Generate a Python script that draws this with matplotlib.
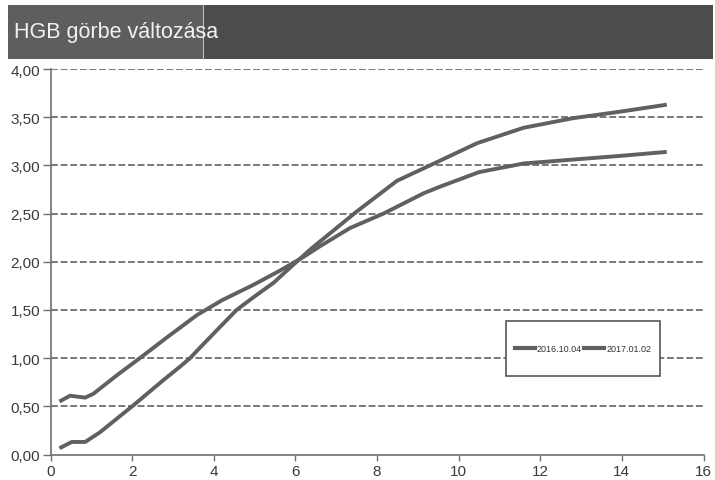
import matplotlib
matplotlib.use("Agg")
import matplotlib.pyplot as plt
from matplotlib.patches import Rectangle
from matplotlib.lines import Line2D

plt.rcParams['font.family'] = ['Liberation Sans', 'DejaVu Sans']

title = "HGB görbe változása"
series_names = ["2016.10.04", "2017.01.02"]

x_a = [0.22, 0.48, 0.85, 1.05, 1.62, 2.19, 2.9, 3.6, 4.2, 4.97, 5.63, 6.2, 6.6,
       7.34, 8.16, 9.14, 9.55, 10.5, 11.6, 12.8, 14.0, 15.1]
y_a = [0.55, 0.61, 0.59, 0.63, 0.82, 1.00, 1.23, 1.45, 1.60, 1.76, 1.91, 2.05, 2.16,
       2.35, 2.50, 2.71, 2.78, 2.93, 3.02, 3.06, 3.10, 3.14]

x_b = [0.22, 0.52, 0.85, 1.21, 2.03, 2.76, 3.17, 3.42, 3.62, 4.1, 4.56, 5.0, 5.46,
       6.03, 6.4, 7.5, 8.49, 9.4, 10.45, 11.59, 12.81, 14.0, 15.1]
y_b = [0.065, 0.13, 0.13, 0.23, 0.51, 0.77, 0.91, 1.0, 1.09, 1.30, 1.50, 1.64, 1.78,
       2.0, 2.14, 2.52, 2.84, 3.02, 3.23, 3.39, 3.49, 3.56, 3.63]

x_ticks = [0, 2, 4, 6, 8, 10, 12, 14, 16]
y_ticks = [0.0, 0.5, 1.0, 1.5, 2.0, 2.5, 3.0, 3.5, 4.0]
y_tick_labels = ["0,00", "0,50", "1,00", "1,50", "2,00", "2,50", "3,00", "3,50", "4,00"]

W, H = 715, 481
fig = plt.figure(figsize=(W / 100, H / 100), dpi=100)
fig.patch.set_facecolor("white")

# axes placement (pixel based)
left, right, top, bottom = 50.5, 703.5, 70, 455.5
ax = fig.add_axes([left / W, 1 - bottom / H, (right - left) / W, (bottom - top) / H])

line_color = "#606060"
for xs, ys in [(x_a, y_a), (x_b, y_b)]:
    ax.plot(xs, ys, color=line_color, lw=2.8, solid_capstyle="butt",
            solid_joinstyle="round")

ax.set_xlim(0, 16)
ax.set_ylim(0, 4)
ax.set_xticks(x_ticks)
ax.set_yticks(y_ticks)
ax.set_yticklabels(y_tick_labels)

for yv in y_ticks[1:]:
    ax.axhline(yv, color="#555555", lw=1.1, linestyle=(0, (4.5, 1.8)), zorder=0.5)

for s in ["top", "right"]:
    ax.spines[s].set_visible(False)
for s in ["left", "bottom"]:
    ax.spines[s].set_color("#707070")
    ax.spines[s].set_linewidth(1.2)

ax.tick_params(axis="both", colors="#707070", labelcolor="#3a3a3a", labelsize=11,
               width=1.0, direction="out")
ax.tick_params(axis="y", length=5.5, pad=2)
ax.tick_params(axis="x", length=4, pad=2.5)

# legend box
rx0, rx1, ry0, ry1 = 506, 660, 322, 377
ax.add_patch(Rectangle(((rx0 - left) / (right - left), (bottom - ry1) / (bottom - top)),
                       (rx1 - rx0) / (right - left), (ry1 - ry0) / (bottom - top),
                       transform=ax.transAxes, facecolor="white", edgecolor="#555555",
                       lw=1.2, zorder=3))
handles = [Line2D([], [], color=line_color, lw=3.0) for _ in series_names]
leg = ax.legend(handles, series_names, loc="center",
                bbox_to_anchor=(((rx0 + rx1) / 2 - left) / (right - left),
                                (bottom - (ry0 + ry1) / 2) / (bottom - top)),
                ncol=2, frameon=False, fontsize=6.5, handlelength=2.2,
                handletextpad=0.25, columnspacing=0.25, borderpad=0.2)
leg.set_zorder(4)
for t in leg.get_texts():
    t.set_color("#333333")

# title bar
fig.patches.append(Rectangle((8 / W, 1 - 60 / H), (203 - 8) / W, 54 / H,
                             transform=fig.transFigure, facecolor="#5e5e5e",
                             edgecolor="none", zorder=0))
fig.patches.append(Rectangle((203 / W, 1 - 60 / H), (713 - 203) / W, 54 / H,
                             transform=fig.transFigure, facecolor="#4c4c4c",
                             edgecolor="none", zorder=0))
fig.lines.append(Line2D([203 / W, 203 / W], [1 - 60 / H, 1 - 6 / H],
                        transform=fig.transFigure, color="#bdbdbd", lw=0.8))
fig.text(14 / W, 1 - 33 / H, title, color="#f2f2f2", fontsize=15.5,
         va="center", ha="left")

fig.savefig("out.png", dpi=100)
